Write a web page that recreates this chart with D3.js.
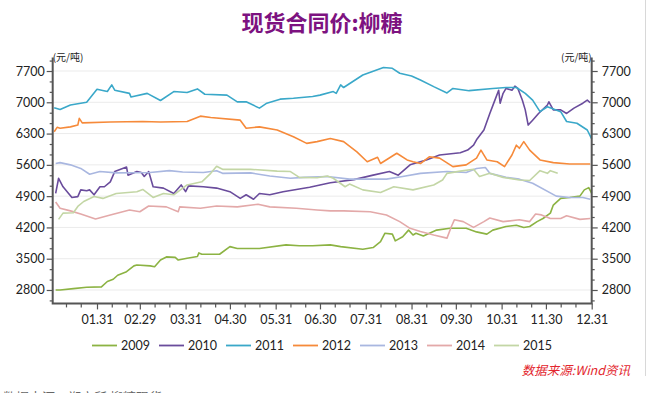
<!DOCTYPE html>
<html><head><meta charset="utf-8">
<script src="https://cdn.jsdelivr.net/npm/d3@7/dist/d3.min.js"></script>
<style>body{margin:0;background:#fff;} svg{display:block;}</style>
</head><body>
<script>
const seriesNames = ["2009","2010","2011","2012","2013","2014","2015"];
const colors = ["#8cb343","#6a4c9c","#3aa8c9","#f68a3a","#a9b7e0","#e3a9a9","#c3d6a5"];
const xTickLabels = ["01.31","02.29","03.31","04.30","05.31","06.30","07.31","08.31","09.30","10.31","11.30","12.31"];
const yTicks = [2800,3500,4200,4900,5600,6300,7000,7700];

const s2009 = [["01.03",2800],["01.06",2800],["01.15",2830],["01.24",2860],["02.03",2870],["02.07",2990],["02.11",3040],["02.14",3130],["02.20",3210],["02.25",3340],["02.27",3360],["03.07",3340],["03.10",3320],["03.14",3470],["03.18",3540],["03.24",3530],["03.26",3470],["04.01",3510],["04.08",3550],["04.09",3630],["04.11",3600],["04.23",3600],["04.30",3770],["05.05",3730],["05.20",3730],["06.07",3810],["06.16",3790],["06.25",3790],["07.07",3810],["07.14",3770],["07.29",3710],["08.05",3750],["08.10",3880],["08.13",4070],["08.18",4050],["08.20",3900],["08.25",3990],["08.29",4140],["09.01",4030],["09.03",4070],["09.08",4010],["09.17",4140],["09.26",4180],["10.07",4180],["10.14",4100],["10.21",4050],["10.25",4140],["11.03",4220],["11.10",4250],["11.15",4200],["11.19",4220],["11.24",4330],["11.28",4400],["12.03",4520],["12.05",4700],["12.10",4850],["12.16",4870],["12.23",4900],["12.26",5040],["12.29",5090],["12.31",4960]];
const s2010 = [["01.03",4960],["01.05",5300],["01.08",5110],["01.14",4870],["01.18",4890],["01.20",5040],["01.24",5020],["01.26",5040],["01.29",4930],["02.02",5110],["02.05",5110],["02.09",5220],["02.12",5450],["02.20",5550],["02.21",5370],["02.27",5450],["03.01",5430],["03.03",5340],["03.06",5450],["03.09",5110],["03.16",5080],["03.23",4960],["03.28",5150],["03.31",5000],["04.02",5130],["04.12",5110],["04.21",5080],["04.30",5000],["05.07",4850],["05.11",4930],["05.16",4830],["05.20",4960],["05.27",4930],["06.05",5000],["06.14",5050],["06.23",5100],["06.30",5150],["07.07",5200],["07.23",5270],["08.05",5370],["08.16",5450],["08.22",5370],["08.30",5600],["09.10",5710],["09.19",5820],["10.03",5870],["10.08",5930],["10.12",6040],["10.14",6160],["10.19",6380],["10.23",6750],["10.26",7010],["10.29",7270],["10.30",6980],["11.01",7200],["11.03",7310],["11.07",7270],["11.09",7360],["11.11",7310],["11.14",7050],["11.16",6830],["11.18",6490],["11.21",6600],["11.25",6750],["12.01",6940],["12.02",7010],["12.05",6830],["12.10",6830],["12.14",6750],["12.19",6870],["12.25",6980],["12.28",7050],["12.30",6990]];
const s2011 = [["01.02",6880],["01.06",6840],["01.13",6940],["01.24",7000],["01.31",7290],["02.07",7240],["02.10",7390],["02.12",7270],["02.22",7200],["02.23",7120],["03.05",7200],["03.14",7040],["03.23",7240],["04.01",7220],["04.08",7300],["04.13",7180],["04.28",7160],["05.05",7010],["05.11",7010],["05.20",6870],["05.25",6980],["06.03",7070],["06.12",7090],["06.25",7130],["06.30",7160],["07.09",7240],["07.11",7200],["07.14",7390],["07.16",7330],["07.29",7610],["08.12",7780],["08.18",7760],["08.23",7650],["08.31",7590],["09.06",7500],["09.15",7350],["09.24",7210],["09.28",7310],["10.09",7260],["10.25",7310],["11.03",7330],["11.10",7330],["11.16",7200],["11.21",7050],["11.26",6790],["12.01",6900],["12.10",6790],["12.14",6570],["12.21",6530],["12.28",6380],["12.31",6180]];
const s2012 = [["01.02",6340],["01.04",6440],["01.06",6420],["01.13",6450],["01.18",6490],["01.19",6640],["01.21",6540],["02.09",6560],["03.02",6570],["03.14",6560],["04.01",6570],["04.10",6690],["04.17",6660],["05.07",6600],["05.11",6420],["05.20",6450],["06.01",6380],["06.12",6230],["06.21",6080],["06.28",6120],["07.07",6190],["07.16",6120],["07.25",5890],["08.01",5670],["08.08",5770],["08.10",5630],["08.21",5860],["08.28",5710],["09.01",5670],["09.06",5630],["09.12",5780],["09.19",5750],["09.28",5560],["10.07",5600],["10.14",5750],["10.17",5930],["10.21",5710],["10.28",5670],["11.02",5560],["11.07",5820],["11.10",6040],["11.12",5970],["11.15",6120],["11.19",5930],["11.26",5710],["12.05",5650],["12.16",5620],["12.30",5620]];
const s2013 = [["01.03",5630],["01.06",5650],["01.13",5600],["01.20",5520],["01.26",5390],["02.02",5450],["02.13",5420],["03.07",5430],["03.20",5470],["03.29",5440],["04.12",5430],["04.21",5470],["04.25",5410],["05.14",5420],["05.27",5350],["06.10",5300],["06.19",5320],["07.05",5340],["07.20",5280],["08.14",5280],["08.25",5340],["09.06",5410],["09.24",5450],["10.07",5430],["10.14",5520],["10.20",5540],["10.23",5410],["11.03",5320],["11.12",5280],["11.21",5190],["12.07",4900],["12.16",4870],["12.25",4870],["12.30",4830]];
const s2014 = [["01.03",4770],["01.06",4630],["01.13",4570],["01.20",4500],["01.30",4390],["02.09",4480],["02.22",4590],["02.29",4550],["03.06",4680],["03.18",4660],["03.26",4550],["03.27",4660],["04.10",4630],["04.21",4680],["05.05",4660],["05.19",4720],["05.27",4660],["06.14",4630],["06.28",4590],["07.07",4570],["07.16",4570],["08.03",4550],["08.14",4480],["08.23",4330],["08.30",4180],["09.06",4110],["09.15",4030],["09.24",3960],["09.27",4220],["09.29",4370],["10.05",4330],["10.12",4200],["10.19",4330],["10.23",4410],["11.01",4330],["11.12",4370],["11.19",4330],["11.23",4500],["11.27",4480],["12.03",4400],["12.10",4400],["12.14",4460],["12.23",4380],["12.30",4400]];
const s2015 = [["01.05",4380],["01.08",4520],["01.15",4530],["01.18",4670],["01.22",4780],["01.29",4890],["02.04",4850],["02.13",4960],["02.27",5000],["03.02",5050],["03.09",4870],["03.16",4960],["03.23",4930],["04.01",5150],["04.11",5220],["04.17",5410],["04.21",5570],["04.25",5500],["05.14",5500],["06.01",5460],["06.10",5450],["06.16",5320],["06.28",5310],["07.05",5350],["07.09",5300],["07.17",5110],["07.20",5170],["07.29",5040],["08.10",4980],["08.19",5110],["09.01",5040],["09.15",5150],["09.21",5260],["09.24",5410],["10.03",5460],["10.12",5500],["10.16",5340],["10.23",5410],["11.01",5320],["11.12",5260],["11.19",5250],["11.26",5470],["12.01",5410],["12.03",5470],["12.08",5410]];
const allSeries = [s2009,s2010,s2011,s2012,s2013,s2014,s2015];

const W = 648, H = 393;
const plotL = 52.7, plotR = 591.7, plotT = 57.6, plotB = 303.4;
const parse = s => d3.timeParse("%Y.%m.%d")("2012." + s);
const font = "Lato, 'Noto Sans', sans-serif";
const cjk = "'Noto Sans CJK SC', sans-serif";

const svg = d3.select("body").append("svg").attr("width", W).attr("height", H);

const x = d3.scaleTime().domain([parse("01.01"), parse("12.31")]).range([plotL, plotR]);
const y = d3.scaleLinear().domain([2500, 8000]).range([plotB, plotT]);

svg.append("line").attr("x1",645.5).attr("x2",645.5).attr("y1",0).attr("y2",376).attr("stroke","#d8d8d8");

svg.append("text").attr("x",322).attr("y",31).attr("text-anchor","middle")
  .attr("font-family",cjk).attr("font-weight","bold").attr("font-size",22).attr("fill","#7d1280")
  .text("现货合同价:柳糖");

svg.append("g").selectAll("line").data(yTicks).join("line")
  .attr("x1",plotL).attr("x2",plotR).attr("y1",d=>y(d)).attr("y2",d=>y(d))
  .attr("stroke","#ebebeb").attr("stroke-width",1);

const line = d3.line().x(d=>x(parse(d[0]))).y(d=>y(d[1]));
svg.append("g").selectAll("path").data(allSeries).join("path")
  .attr("d", line).attr("fill","none").attr("stroke",(d,i)=>colors[i]).attr("stroke-width",1.6)
  .attr("stroke-linejoin","round");

const minorYSet = Array.from(new Set([].concat(...yTicks.map(t=>[t-700/3, t+700/3])).map(v=>Math.round(v*100)/100)));

const axisColor = "#555";
function styleAxis(g){
  g.select(".domain").remove();
  g.selectAll(".tick line").attr("stroke",axisColor).attr("stroke-width",1.2);
  g.selectAll(".tick text").attr("font-family",font).attr("font-size",12.5).attr("fill","#222");
}
function styleMinor(g){ g.select(".domain").remove(); g.selectAll("line").attr("stroke",axisColor).attr("stroke-width",1.2); }

const gl = svg.append("g").attr("transform",`translate(${plotL},0)`)
  .call(d3.axisLeft(y).tickValues(yTicks).tickSize(6).tickPadding(2).tickFormat(d3.format("d")));
styleAxis(gl);
svg.append("g").attr("transform",`translate(${plotL},0)`)
  .call(d3.axisLeft(y).tickValues(minorYSet).tickSize(3).tickFormat("")).call(styleMinor);

const gr = svg.append("g").attr("transform",`translate(${plotR},0)`)
  .call(d3.axisRight(y).tickValues(yTicks).tickSize(6).tickPadding(4).tickFormat(d3.format("d")));
styleAxis(gr);
svg.append("g").attr("transform",`translate(${plotR},0)`)
  .call(d3.axisRight(y).tickValues(minorYSet).tickSize(3).tickFormat("")).call(styleMinor);

const majorX = xTickLabels.map(parse);
const gb = svg.append("g").attr("transform",`translate(0,${plotB})`)
  .call(d3.axisBottom(x).tickValues(majorX).tickSize(6).tickPadding(6).tickFormat(d3.timeFormat("%m.%d")));
styleAxis(gb);
const minorX = [];
for (let m = 1; m <= 12; m++) { ["10","20"].forEach(dd => minorX.push(parse(String(m).padStart(2,"0") + "." + dd))); }
svg.append("g").attr("transform",`translate(0,${plotB})`)
  .call(d3.axisBottom(x).tickValues(minorX).tickSize(4).tickFormat("")).call(styleMinor);

svg.append("path").attr("d",`M${plotL},${plotT}V${plotB}H${plotR}V${plotT}`)
  .attr("fill","none").attr("stroke",axisColor).attr("stroke-width",2);

svg.append("text").attr("x",plotL).attr("y",60.5).attr("font-family",cjk).attr("font-size",10).attr("fill","#222").text("(元/吨)");
svg.append("text").attr("x",plotR).attr("y",60.5).attr("text-anchor","end").attr("font-family",cjk).attr("font-size",10).attr("fill","#222").text("(元/吨)");

const lg = svg.append("g").selectAll("g").data(seriesNames).join("g")
  .attr("transform",(d,i)=>`translate(${92 + i*67},345.5)`);
lg.append("line").attr("x1",0).attr("x2",25).attr("stroke",(d,i)=>colors[i]).attr("stroke-width",1.8);
lg.append("text").attr("x",29).attr("y",4.5).attr("font-family",font).attr("font-size",12.5).attr("fill","#222").text(d=>d);

svg.append("text").attr("x",630).attr("y",375).attr("text-anchor","end")
  .attr("font-family",cjk).attr("font-style","italic").attr("font-size",12.5).attr("fill","#e3262e")
  .text("数据来源:Wind资讯");
svg.append("text").attr("x",3).attr("y",402).attr("font-family",cjk).attr("font-size",13).attr("fill","#666")
  .text("数据来源：郑商所 柳糖现货");
</script>
</body></html>
